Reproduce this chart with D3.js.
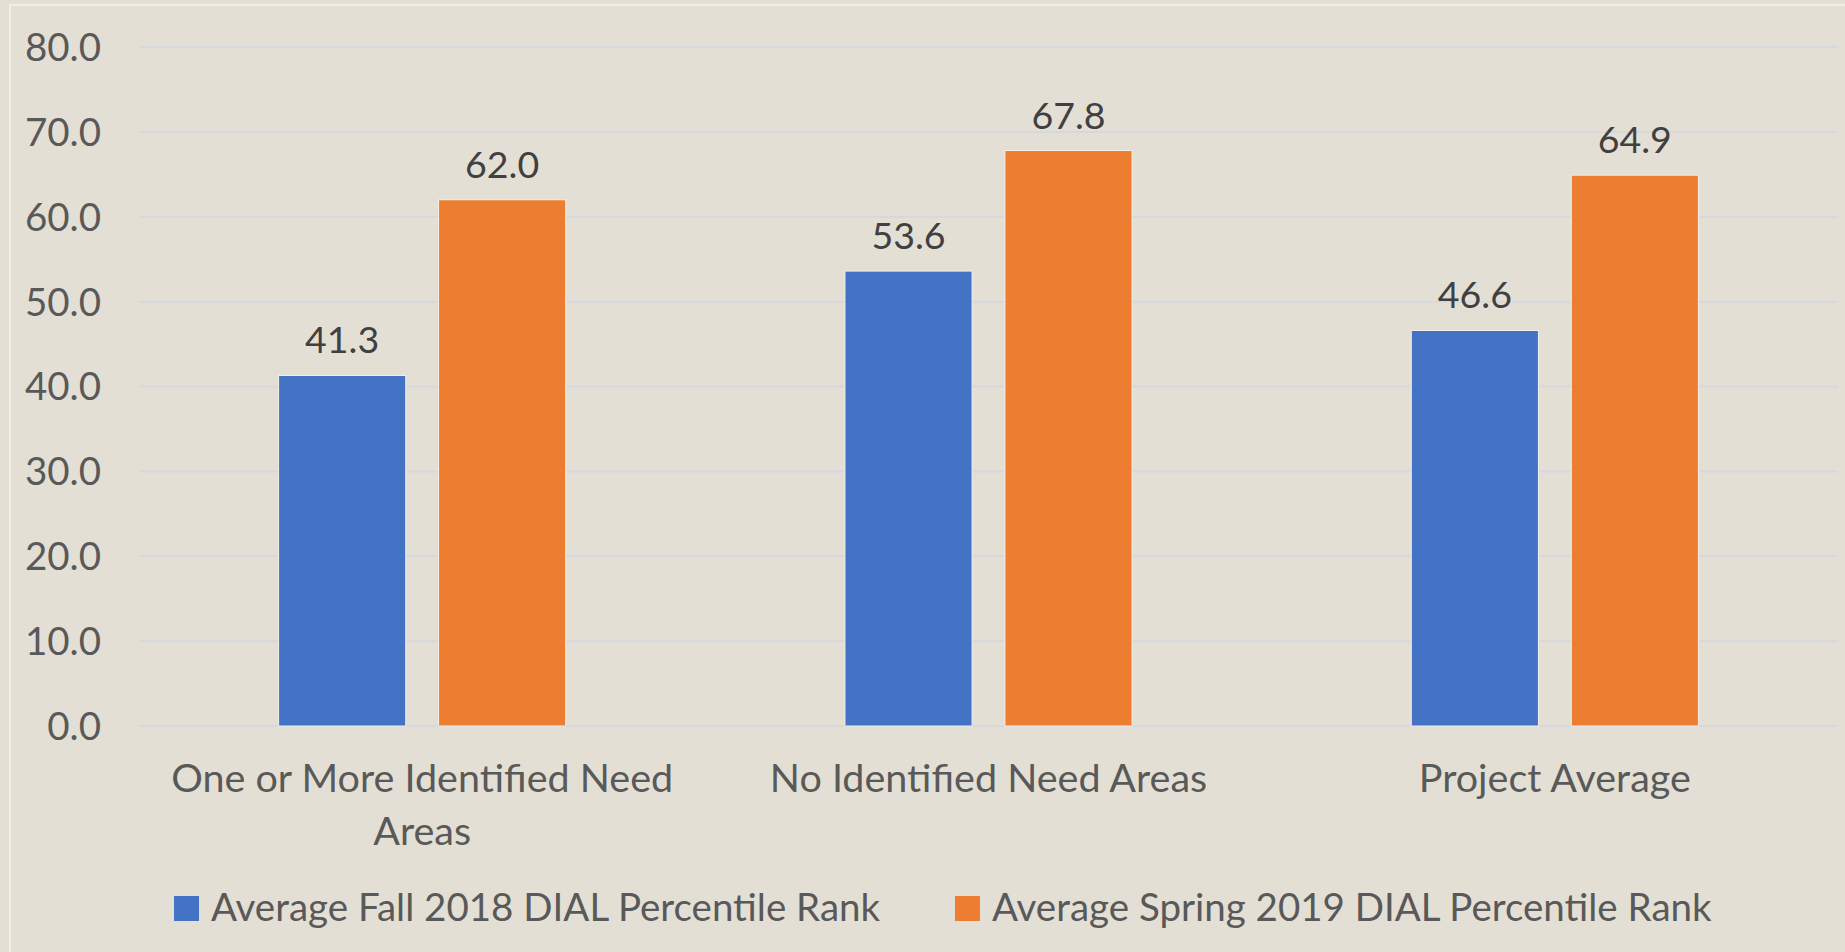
<!DOCTYPE html>
<html>
<head>
<meta charset="utf-8">
<script src="https://cdn.jsdelivr.net/npm/d3@7"></script>
<style>
  html, body { margin: 0; padding: 0; background: #e4dfd4; }
  svg { display: block; }
  text { font-family: Lato, "Open Sans", sans-serif; }
</style>
</head>
<body>
<svg id="chart" width="1845" height="952"></svg>
<script>
const categories = [["One or More Identified Need", "Areas"], ["No Identified Need Areas"], ["Project Average"]];
const categoryKeys = ["One or More Identified Need Areas", "No Identified Need Areas", "Project Average"];
const seriesNames = ["Average Fall 2018 DIAL Percentile Rank", "Average Spring 2019 DIAL Percentile Rank"];
const fall2018 = [41.3, 53.6, 46.6];
const spring2019 = [62.0, 67.8, 64.9];
const yTicks = [0, 10, 20, 30, 40, 50, 60, 70, 80];
const colors = ["#4472c4", "#ed7d31"];

const svg = d3.select("#chart");
const W = 1845, H = 952;
const plot = { left: 139, right: 1838, top: 47, bottom: 726 };

svg.append("rect").attr("x", 0).attr("y", 0).attr("width", W).attr("height", H).attr("fill", "#e4dfd4");
svg.append("rect").attr("x", 10).attr("y", 5).attr("width", W - 8).attr("height", H).attr("fill", "none")
  .attr("stroke", "#f3f1ec").attr("stroke-width", 1.5);

const y = d3.scaleLinear().domain([0, 80]).range([plot.bottom, plot.top]);
const x0 = d3.scaleBand().domain(categoryKeys).range([plot.left, plot.right]).paddingInner(0).paddingOuter(0);
const bw = x0.bandwidth();
const barW = bw * 0.2245;
const innerGap = bw * 0.058;
const x1 = d3.scaleOrdinal().domain([0, 1]).range([bw / 2 - innerGap / 2 - barW, bw / 2 + innerGap / 2]);

// gridlines
svg.append("g").selectAll("line").data(yTicks).join("line")
  .attr("x1", plot.left).attr("x2", plot.right)
  .attr("y1", d => y(d)).attr("y2", d => y(d))
  .attr("stroke", "#d5d8dd").attr("stroke-width", 2);

// y axis labels
const yAxis = d3.axisLeft(y).tickValues(yTicks).tickFormat(d3.format(".1f")).tickSize(0).tickPadding(38);
const ga = svg.append("g").attr("transform", `translate(${plot.left},0)`).call(yAxis);
ga.select(".domain").remove();
ga.selectAll("text").attr("font-size", 38.5).attr("fill", "#595959").attr("font-family", "Lato, sans-serif").attr("dy", "0.35em");

// bars
const series = [fall2018, spring2019];
series.forEach((vals, si) => {
  const g = svg.append("g");
  g.selectAll("rect").data(vals).join("rect")
    .attr("x", (d, i) => x0(categoryKeys[i]) + x1(si))
    .attr("y", d => y(d))
    .attr("width", barW)
    .attr("height", d => y(0) - y(d))
    .attr("fill", colors[si])
    .attr("stroke", "#f4f1ea").attr("stroke-width", 1);
  g.selectAll("text").data(vals).join("text")
    .attr("x", (d, i) => x0(categoryKeys[i]) + x1(si) + barW / 2)
    .attr("y", d => y(d) - 22)
    .attr("text-anchor", "middle")
    .attr("font-size", 37.5)
    .attr("fill", "#404040")
    .text(d => d3.format(".1f")(d));
});

// category labels
categories.forEach((lines, i) => {
  const t = svg.append("text")
    .attr("x", x0(categoryKeys[i]) + bw / 2)
    .attr("y", 792)
    .attr("text-anchor", "middle")
    .attr("font-size", 39.5)
    .attr("fill", "#595959");
  lines.forEach((ln, j) => {
    t.append("tspan").attr("x", x0(categoryKeys[i]) + bw / 2).attr("dy", j === 0 ? 0 : 53).text(ln);
  });
});

// legend
const legendX = [174, 955];
seriesNames.forEach((name, i) => {
  svg.append("rect").attr("x", legendX[i]).attr("y", 896).attr("width", 25).attr("height", 25).attr("fill", colors[i]);
  svg.append("text").attr("x", legendX[i] + 37).attr("y", 921)
    .attr("font-size", 38.5).attr("fill", "#595959").text(name);
});
</script>
</body>
</html>
